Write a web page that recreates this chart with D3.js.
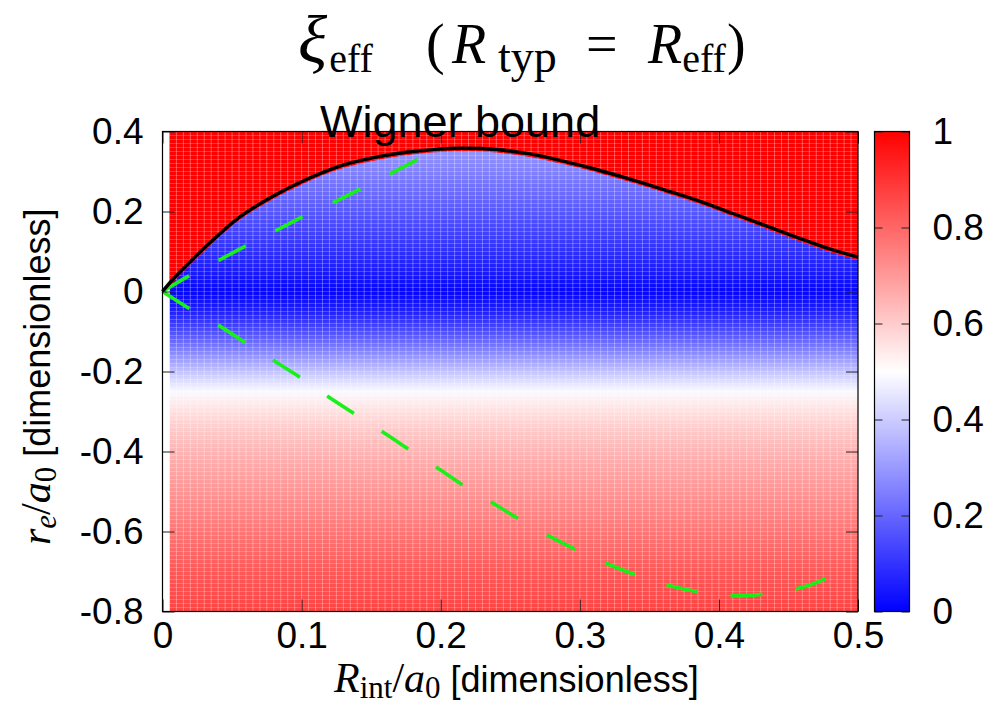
<!DOCTYPE html>
<html>
<head>
<meta charset="utf-8">
<script src="https://cdn.jsdelivr.net/npm/d3@7/dist/d3.min.js"></script>
<style>
  body { margin: 0; background: #fff; }
  text { font-family: "Liberation Sans", Arial, Helvetica, sans-serif; }
  .serif { font-family: "Liberation Serif", "Times New Roman", serif; }
</style>
</head>
<body>
<svg width="986" height="705"></svg>
<script>
// xi_eff along r_e (the map hardly changes along R_int)
let profileRe = [0.4, 0.35, 0.3, 0.25, 0.2, 0.15, 0.1, 0.05, 0, -0.05, -0.1, -0.15, -0.2,
                 -0.25, -0.3, -0.35, -0.4, -0.45, -0.5, -0.55, -0.6, -0.65, -0.7, -0.75, -0.8]
let profileXi = [0.32, 0.29, 0.25, 0.21, 0.17, 0.13, 0.09, 0.05, 0.01, 0.06, 0.15, 0.26, 0.38,
                 0.49, 0.56, 0.61, 0.65, 0.68, 0.71, 0.74, 0.77, 0.80, 0.83, 0.85, 0.87]
// Wigner bound (black line); xi = 1 above it
let boundR  = [0, 0.0074, 0.019, 0.0314, 0.0554, 0.0794, 0.1034, 0.127, 0.151, 0.175, 0.199, 0.215,
               0.240, 0.264, 0.288, 0.312, 0.336, 0.362, 0.386, 0.410, 0.434, 0.458, 0.479, 0.5]
let boundRe = [0, 0.030, 0.071, 0.113, 0.186, 0.238, 0.280, 0.313, 0.334, 0.348, 0.356, 0.358,
               0.355, 0.344, 0.326, 0.305, 0.281, 0.253, 0.226, 0.195, 0.164, 0.133, 0.107, 0.086]
// green dashed curves
let upperR  = [0, 0.019, 0.041, 0.0614, 0.083, 0.1034, 0.126, 0.147, 0.168, 0.1885]
let upperRe = [0, 0.039, 0.079, 0.117, 0.155, 0.192, 0.228, 0.265, 0.302, 0.339]
let lowerR  = [0, 0.019, 0.041, 0.060, 0.081, 0.100, 0.120, 0.139, 0.160, 0.179, 0.1993, 0.2185,
               0.2394, 0.2592, 0.2804, 0.3012, 0.3228, 0.3448, 0.3678, 0.3912, 0.4146, 0.4379, 0.4614, 0.4835]
let lowerRe = [0, -0.042, -0.086, -0.129, -0.175, -0.217, -0.265, -0.308, -0.355, -0.399, -0.445, -0.490,
               -0.533, -0.575, -0.616, -0.652, -0.685, -0.714, -0.738, -0.754, -0.761, -0.754, -0.738, -0.708]
let xTicks = [0, 0.1, 0.2, 0.3, 0.4, 0.5]
let yTicks = [0.4, 0.2, 0, -0.2, -0.4, -0.6, -0.8]
let cbTicks = [0, 0.2, 0.4, 0.6, 0.8, 1]

let svg = d3.select('svg')
let x = d3.scaleLinear().domain([0, 0.5]).range([162.5, 858]),
    y = d3.scaleLinear().domain([-0.8, 0.4]).range([611.5, 131.5]),
    color = d3.scaleLinear().domain([0, 0.5, 1]).range(['#0000ff', '#ffffff', '#ff0000'])

let defs = svg.append('defs')
// vertical gradient of the map
let grad = defs.append('linearGradient').attr('id', 'mapGrad')
    .attr('gradientUnits', 'userSpaceOnUse')
    .attr('x1', 0).attr('x2', 0).attr('y1', y(0.4)).attr('y2', y(-0.8))
grad.selectAll('stop').data(profileRe).enter().append('stop')
    .attr('offset', d => (y(d) - y(0.4)) / (y(-0.8) - y(0.4)))
    .attr('stop-color', (d, i) => color(profileXi[i]))

// map area starts at the first cell, R = 0.005
let mapX0 = x(0.005)
defs.append('clipPath').attr('id', 'mapClip').append('rect')
    .attr('x', mapX0).attr('y', y(0.4)).attr('width', x(0.5) - mapX0).attr('height', y(-0.8) - y(0.4))

let map = svg.append('g').attr('clip-path', 'url(#mapClip)')
map.append('rect')
    .attr('x', mapX0).attr('y', y(0.4)).attr('width', x(0.5) - mapX0).attr('height', y(-0.8) - y(0.4))
    .attr('fill', 'url(#mapGrad)')

let bound = boundR.map((d, i) => [d, boundRe[i]])
let smooth = d3.curveCatmullRom.alpha(0.5)
map.append('path')
    .datum(bound)
    .attr('fill', color(1))
    .attr('d', d3.area().curve(smooth)
        .x(d => x(d[0])).y0(y(0.4)).y1(d => y(d[1]) + 3))

// faint cell grid of the pixel map
let cellCols = d3.range(0.005, 0.5, 0.005),
    cellRows = d3.range(-0.79, 0.4, 0.01)
map.append('g').selectAll('line').data(cellCols).enter().append('line')
    .attr('x1', d => x(d)).attr('x2', d => x(d)).attr('y1', y(0.4)).attr('y2', y(-0.8))
    .attr('stroke', '#fff').attr('stroke-opacity', 0.32).attr('stroke-width', 1)
map.append('g').selectAll('line').data(cellRows).enter().append('line')
    .attr('y1', d => y(d)).attr('y2', d => y(d)).attr('x1', mapX0).attr('x2', x(0.5))
    .attr('stroke', '#fff').attr('stroke-opacity', 0.22).attr('stroke-width', 1)

// curves
let line = d3.line().curve(smooth).x(d => x(d[0])).y(d => y(d[1]))
svg.append('path')
    .datum(upperR.map((d, i) => [d, upperRe[i]]))
    .attr('fill', 'none').attr('stroke', '#19f019').attr('stroke-width', 3.6)
    .attr('stroke-dasharray', '31,33')
    .attr('d', line)
svg.append('path')
    .datum(lowerR.map((d, i) => [d, lowerRe[i]]))
    .attr('fill', 'none').attr('stroke', '#19f019').attr('stroke-width', 3.6)
    .attr('stroke-dasharray', '32,33')
    .attr('d', line)
svg.append('path')
    .datum(bound)
    .attr('fill', 'none').attr('stroke', '#000').attr('stroke-width', 3.4)
    .attr('d', line)

// axes (inward ticks on all four sides)
let fmt = d => String(d)
let styleAxis = g => {
    g.select('.domain').remove()
    g.selectAll('.tick line').attr('stroke', '#222')
    g.selectAll('.tick text').attr('fill', '#000').style('font-size', '37px')
}
svg.append('g').attr('transform', 'translate(0,' + y(-0.8) + ')')
    .call(d3.axisBottom(x).tickValues(xTicks).tickFormat(fmt).tickSize(-12).tickPadding(10))
    .call(styleAxis)
svg.append('g').attr('transform', 'translate(0,' + y(0.4) + ')')
    .call(d3.axisTop(x).tickValues(xTicks).tickFormat('').tickSize(-12))
    .call(styleAxis)
svg.append('g').attr('transform', 'translate(' + x(0) + ',0)')
    .call(d3.axisLeft(y).tickValues(yTicks).tickFormat(fmt).tickSize(-12).tickPadding(19))
    .call(styleAxis)
svg.append('g').attr('transform', 'translate(' + x(0.5) + ',0)')
    .call(d3.axisRight(y).tickValues(yTicks).tickFormat('').tickSize(-12))
    .call(styleAxis)
svg.append('rect')
    .attr('x', x(0)).attr('y', y(0.4)).attr('width', x(0.5) - x(0)).attr('height', y(-0.8) - y(0.4))
    .attr('fill', 'none').attr('stroke', '#000').attr('stroke-width', 1.2)

// colour bar
let cb = d3.scaleLinear().domain([0, 1]).range([611.5, 131.5]),
    cbX0 = 874.5, cbX1 = 909.5
let cbGrad = defs.append('linearGradient').attr('id', 'cbGrad')
    .attr('x1', 0).attr('x2', 0).attr('y1', 1).attr('y2', 0)
cbGrad.selectAll('stop').data(color.domain()).enter().append('stop')
    .attr('offset', d => d).attr('stop-color', d => color(d))
svg.append('rect')
    .attr('x', cbX0).attr('y', cb(1)).attr('width', cbX1 - cbX0).attr('height', cb(0) - cb(1))
    .attr('fill', 'url(#cbGrad)')
svg.append('g').attr('transform', 'translate(' + cbX1 + ',0)')
    .call(d3.axisRight(cb).tickValues(cbTicks).tickFormat(fmt).tickSize(-8).tickPadding(23))
    .call(styleAxis)
svg.append('g').attr('transform', 'translate(' + cbX0 + ',0)')
    .call(d3.axisLeft(cb).tickValues(cbTicks).tickFormat('').tickSize(-8))
    .call(styleAxis)
svg.append('rect')
    .attr('x', cbX0).attr('y', cb(1)).attr('width', cbX1 - cbX0).attr('height', cb(0) - cb(1))
    .attr('fill', 'none').attr('stroke', '#000').attr('stroke-width', 1.2)

// Wigner bound label
svg.append('text')
    .attr('x', 320).attr('y', 137)
    .style('font-size', '45px')
    .text('Wigner bound')

// title
let title = svg.append('text').attr('class', 'serif').attr('y', 63).style('font-size', '56px')
title.append('tspan').attr('x', 298).style('font-style', 'italic').style('font-size', '68px').text('ξ')
title.append('tspan').attr('dx', 2).attr('dy', 9).style('font-size', '40px').text('eff')
title.append('tspan').attr('x', 426).attr('dy', -9).text('(')
title.append('tspan').attr('x', 452).style('font-style', 'italic').text('R')
title.append('tspan').attr('x', 498).attr('dy', 9).style('font-size', '46px').text('typ')
title.append('tspan').attr('x', 586).attr('dy', -9).text('=')
title.append('tspan').attr('x', 648).style('font-style', 'italic').text('R')
title.append('tspan').attr('dy', 9).style('font-size', '40px').text('eff')
title.append('tspan').attr('dx', 1).attr('dy', -9).text(')')

// x axis label
let xl = svg.append('text').attr('x', 334).attr('y', 692).style('font-size', '36px')
xl.append('tspan').attr('class', 'serif').style('font-style', 'italic').style('font-size', '42px').text('R')
xl.append('tspan').attr('class', 'serif').attr('dy', 6).style('font-size', '31px').text('int')
xl.append('tspan').attr('class', 'serif').attr('dy', -6).style('font-size', '42px').text('/')
xl.append('tspan').attr('class', 'serif').style('font-style', 'italic').style('font-size', '42px').text('a')
xl.append('tspan').attr('class', 'serif').attr('dy', 6).style('font-size', '31px').text('0')
xl.append('tspan').attr('dy', -6).text(' [dimensionless]')

// y axis label
let yl = svg.append('text').attr('transform', 'translate(50,545) rotate(-90)').style('font-size', '36px')
yl.append('tspan').attr('class', 'serif').style('font-style', 'italic').style('font-size', '42px').text('r')
yl.append('tspan').attr('class', 'serif').style('font-style', 'italic').attr('dy', 6).style('font-size', '31px').text('e')
yl.append('tspan').attr('class', 'serif').attr('dy', -6).style('font-size', '42px').text('/')
yl.append('tspan').attr('class', 'serif').style('font-style', 'italic').style('font-size', '42px').text('a')
yl.append('tspan').attr('class', 'serif').attr('dy', 6).style('font-size', '31px').text('0')
yl.append('tspan').attr('dy', -6).text(' [dimensionless]')
</script>
</body>
</html>
